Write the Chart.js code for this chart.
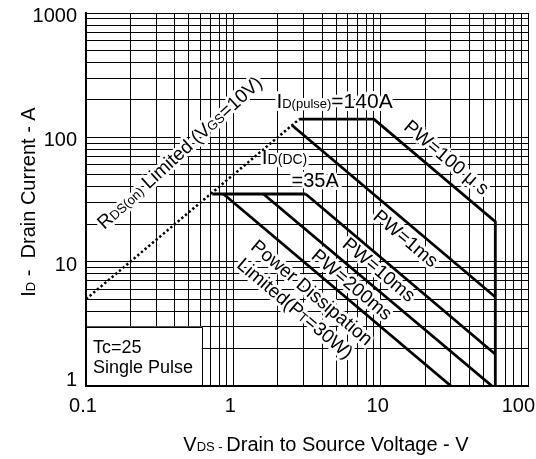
<!DOCTYPE html>
<html lang="en">
<head>
<meta charset="UTF-8">
<title>Safe Operating Area</title>
<style>
  html, body { margin: 0; padding: 0; background: #fff; }
  canvas { display: block; }
</style>
</head>
<body>
<canvas id="soaChart" width="536" height="459"></canvas>

<script src="https://cdn.jsdelivr.net/npm/chart.js"></script>
<script>
// axis range and tick labels
const xTickValues = [0.1, 1, 10, 100];
const xTickLabels = ['0.1', '1', '10', '100'];
const yTickValues = [1, 10, 100, 1000];
const yTickLabels = ['1', '10', '100', '1000'];

// boundary lines, VDS (V) / ID (A)
const rdsV = [0.1, 2.8];
const rdsI = [5, 140];
const pw100usV = [2.8, 9, 60, 60];
const pw100usI = [140, 140, 21, 1];
const pw1msV = [2.5, 60];
const pw1msI = [125, 5.2];
const pw10msV = [3.1, 60];
const pw10msI = [35, 1.8];
const pw200msV = [1.6, 57];
const pw200msI = [35, 1];
const dcV = [0.72, 3.1];
const dcI = [35, 35];
const pdV = [0.857, 30];
const pdI = [35, 1];

const FONT = "'Liberation Sans', Arial, sans-serif";
Chart.defaults.font.family = FONT;
Chart.defaults.color = '#000';

function pts(xs, ys) {
    return xs.map((v, i) => ({ x: v, y: ys[i] }));
}

// minor grid: 1..9 in every decade
function logGrid(decades) {
    const out = [];
    for (let k = 0; k < decades.length - 1; k++) {
        for (let m = 1; m < 10; m++) out.push(decades[k] * m);
    }
    out.push(decades[decades.length - 1]);
    return out;
}

function solid(xs, ys) {
    return { data: pts(xs, ys), showLine: true, borderColor: '#000', borderWidth: 2.8,
             pointRadius: 0, fill: false, tension: 0 };
}

// text labels, anchored in data units
const notes = [
    { parts: [['R', 19], ['DS(on)', 13], [' Limited (V', 19], ['GS', 13], ['=10V)', 19]], v: 0.43, i: 76, dir: 'up' },
    { parts: [['I', 21], ['D(pulse)', 13], ['=140A', 21]], v: 1.96, i: 172, dir: 'flat' },
    { parts: [['I', 21], ['D(DC)', 14]], v: 1.56, i: 61, dir: 'flat' },
    { parts: [['=35A', 20]], v: 2.48, i: 40, dir: 'flat' },
    { parts: [['PW=100 \u03bc s', 19]], v: 28.2, i: 69.5, dir: 'down' },
    { parts: [['PW=1ms', 19]], v: 14.9, i: 15.5, dir: 'down' },
    { parts: [['PW=10ms', 19]], v: 9.8, i: 8.7, dir: 'down' },
    { parts: [['PW=200ms', 19]], v: 6.42, i: 6.6, dir: 'down' },
    { parts: [['Power Dissipation', 19]], v: 3.44, i: 5.7, dir: 'down' },
    { parts: [['Limited(P', 19], ['T', 13], ['=30W)', 19]], v: 2.64, i: 4.24, dir: 'down' }
];

function drawParts(ctx, parts, x, y, angle, centered, halo) {
    ctx.save();
    ctx.translate(x, y);
    ctx.rotate(angle);
    const widths = parts.map(p => { ctx.font = p[1] + 'px ' + FONT; return ctx.measureText(p[0]).width; });
    const total = widths.reduce((a, b) => a + b, 0);
    const big = Math.max(...parts.map(p => p[1]));
    const x0 = centered ? -total / 2 : 0;
    const yb = centered ? big * 0.36 : 0;
    ctx.textBaseline = 'alphabetic';
    ctx.textAlign = 'left';
    if (halo) {
        ctx.strokeStyle = '#fff';
        ctx.lineWidth = 6;
        ctx.lineJoin = 'round';
        let cx = x0;
        parts.forEach((p, k) => { ctx.font = p[1] + 'px ' + FONT; ctx.strokeText(p[0], cx, yb); cx += widths[k]; });
    }
    ctx.fillStyle = '#000';
    let cx = x0;
    parts.forEach((p, k) => { ctx.font = p[1] + 'px ' + FONT; ctx.fillText(p[0], cx, yb); cx += widths[k]; });
    ctx.restore();
}

const notesPlugin = {
    id: 'notes',
    beforeDatasetsDraw(chart) {
        const ctx = chart.ctx;
        const xs = chart.scales.x, ys = chart.scales.y;
        const slope = Math.atan2(ys.getPixelForValue(10) - ys.getPixelForValue(1),
                                 xs.getPixelForValue(10) - xs.getPixelForValue(1));

        // Tc box
        const bl = xs.getPixelForValue(0.1), br = xs.getPixelForValue(0.61);
        const bt = ys.getPixelForValue(3), bb = ys.getPixelForValue(1);
        ctx.save();
        ctx.fillStyle = '#fff';
        ctx.fillRect(bl + 1, bt, br - bl - 1, bb - bt - 1);
        ctx.strokeStyle = '#000';
        ctx.lineWidth = 1;
        ctx.beginPath();
        ctx.moveTo(bl, Math.round(bt) + 0.5);
        ctx.lineTo(Math.round(br) + 0.5, Math.round(bt) + 0.5);
        ctx.lineTo(Math.round(br) + 0.5, bb);
        ctx.stroke();
        ctx.restore();
        drawParts(ctx, [['Tc=25', 18]], bl + 7, bt + 26, 0, false, false);
        drawParts(ctx, [['Single Pulse', 18]], bl + 7, bt + 46, 0, false, false);

        notes.forEach(n => {
            const px = xs.getPixelForValue(n.v), py = ys.getPixelForValue(n.i);
            if (n.dir === 'flat') {
                drawParts(ctx, n.parts, px, py, 0, false, true);
            } else if (n.dir === 'up') {
                drawParts(ctx, n.parts, px, py, slope - 0.04, true, true);
            } else {
                drawParts(ctx, n.parts, px, py, -slope, true, true);
            }
        });
    },
    afterDraw(chart) {
        const ctx = chart.ctx;
        const xs = chart.scales.x, ys = chart.scales.y;
        const area = chart.chartArea;
        // tick labels
        ctx.save();
        ctx.font = '20px ' + FONT;
        ctx.fillStyle = '#000';
        ctx.textBaseline = 'alphabetic';
        ctx.textAlign = 'center';
        xTickValues.forEach((v, k) => {
            const w = ctx.measureText(xTickLabels[k]).width;
            let px = xs.getPixelForValue(v) - 3;
            px = Math.min(px, chart.width - 1 - w / 2);
            ctx.fillText(xTickLabels[k], px, area.bottom + 26);
        });
        ctx.textAlign = 'right';
        yTickValues.forEach((v, k) => {
            const py = Math.min(ys.getPixelForValue(v) + 9, area.bottom);
            ctx.fillText(yTickLabels[k], area.left - 9, py);
        });
        ctx.restore();
        // axis titles
        drawParts(ctx, [['I', 20], ['D', 13], [' -  Drain Current - A', 20]], 28, 202, -Math.PI / 2, true, false);
        drawParts(ctx, [['V', 20], ['DS - ', 13], ['Drain to Source Voltage - V', 20]], 326, 444, 0, true, false);
    }
};

new Chart(document.getElementById('soaChart'), {
    type: 'scatter',
    data: {
        datasets: [
            Object.assign(solid(rdsV, rdsI), { borderDash: [2.4, 2.4], borderWidth: 2.5 }),
            solid(pw100usV, pw100usI),
            solid(pw1msV, pw1msI),
            solid(pw10msV, pw10msI),
            solid(pw200msV, pw200msI),
            solid(dcV, dcI),
            solid(pdV, pdI)
        ]
    },
    options: {
        responsive: false,
        devicePixelRatio: 1,
        animation: false,
        layout: { padding: { top: 13, right: 8, left: 0, bottom: 0 } },
        plugins: { legend: { display: false }, tooltip: { enabled: false } },
        scales: {
            x: {
                type: 'logarithmic',
                min: xTickValues[0],
                max: xTickValues[xTickValues.length - 1],
                afterBuildTicks: s => { s.ticks = logGrid(xTickValues).map(v => ({ value: v })); },
                afterFit: s => { s.height = 73; s.paddingLeft = 0; s.paddingRight = 0; },
                ticks: { display: false, autoSkip: false },
                grid: { color: '#000', lineWidth: 1, drawTicks: false },
                border: { color: '#000', width: 2 }
            },
            y: {
                type: 'logarithmic',
                min: yTickValues[0],
                max: yTickValues[yTickValues.length - 1],
                afterBuildTicks: s => { s.ticks = logGrid(yTickValues).map(v => ({ value: v })); },
                afterFit: s => { s.width = 86; s.paddingTop = 0; s.paddingBottom = 0; },
                ticks: { display: false, autoSkip: false },
                grid: { color: '#000', lineWidth: 1, drawTicks: false },
                border: { color: '#000', width: 2 }
            }
        }
    },
    plugins: [notesPlugin]
});
</script>
</body>
</html>
